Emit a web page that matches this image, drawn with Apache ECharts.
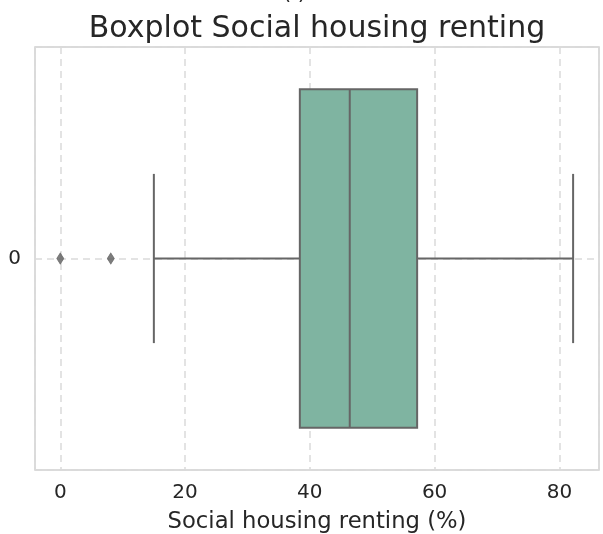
<!DOCTYPE html>
<html>
<head>
<meta charset="utf-8">
<title>Boxplot Social housing renting</title>
<script src="https://cdn.jsdelivr.net/npm/echarts@6/dist/echarts.min.js"></script>
<style>
  html, body { margin: 0; padding: 0; background: #ffffff; }
  #chart { width: 603px; height: 534px; }
</style>
</head>
<body>
<div id="chart"></div>
<script>
// Five-number summary of social housing renting (%), one group labelled "0"
const categories = ['0'];
const whiskerLow = [15.0];
const quartile1 = [38.4];
const medians = [46.4];
const quartile3 = [57.2];
const whiskerHigh = [82.2];
// Points beyond the whiskers
const outlierValues = [0.0, 8.1];
const outlierGroup = [0, 0];
const xTickValues = [0, 20, 40, 60, 80];

const FONT = '"DejaVu Sans", sans-serif';
const TEXT = '#262626';
const EDGE = '#666666';
const FILL = '#7fb4a1';
const GRID = '#dadada';

const boxData = categories.map((c, i) => [
  whiskerLow[i], quartile1[i], medians[i], quartile3[i], whiskerHigh[i], i
]);
const outlierData = outlierValues.map((v, i) => [v, outlierGroup[i]]);

function renderBox(params, api) {
  const lo = api.value(0), q1 = api.value(1), med = api.value(2);
  const q3 = api.value(3), hi = api.value(4), g = api.value(5);
  const boxH = api.size([0, 0.8])[1];
  const capH = api.size([0, 0.4])[1];
  const pLo = api.coord([lo, g]);
  const pQ1 = api.coord([q1, g]);
  const pMed = api.coord([med, g]);
  const pQ3 = api.coord([q3, g]);
  const pHi = api.coord([hi, g]);
  const cy = pQ1[1];
  const lineStyle = { stroke: EDGE, lineWidth: 2, fill: null };
  return {
    type: 'group',
    children: [
      { type: 'line', shape: { x1: pLo[0], y1: cy, x2: pQ1[0], y2: cy }, style: lineStyle },
      { type: 'line', shape: { x1: pQ3[0], y1: cy, x2: pHi[0], y2: cy }, style: lineStyle },
      { type: 'line', shape: { x1: pLo[0], y1: cy - capH / 2, x2: pLo[0], y2: cy + capH / 2 }, style: lineStyle },
      { type: 'line', shape: { x1: pHi[0], y1: cy - capH / 2, x2: pHi[0], y2: cy + capH / 2 }, style: lineStyle },
      { type: 'rect', shape: { x: pQ1[0], y: cy - boxH / 2, width: pQ3[0] - pQ1[0], height: boxH },
        style: { fill: FILL, stroke: EDGE, lineWidth: 2 } },
      { type: 'line', shape: { x1: pMed[0], y1: cy - boxH / 2, x2: pMed[0], y2: cy + boxH / 2 }, style: lineStyle }
    ]
  };
}

const chart = echarts.init(document.getElementById('chart'), null, { renderer: 'canvas' });
chart.setOption({
  animation: false,
  backgroundColor: '#ffffff',
  textStyle: { fontFamily: FONT },
  grid: {
    left: 35, right: 4, top: 47, bottom: 64,
    outerBoundsMode: 'none',
    containLabel: false,
    show: true, borderColor: '#d0d0d0', borderWidth: 1.5, backgroundColor: 'transparent'
  },
  graphic: [
    {
      type: 'text', x: 294.5, y: -6,
      style: { text: '( )', font: '21px ' + FONT, fill: TEXT, align: 'center', verticalAlign: 'middle' }
    },
    {
      type: 'text', x: 317, y: 29.5,
      style: { text: 'Boxplot Social housing renting', font: '30px ' + FONT, fill: TEXT,
               align: 'center', verticalAlign: 'middle' }
    }
  ],
  xAxis: {
    type: 'value',
    min: -4.05,
    max: 86.35,
    splitNumber: 5,
    name: 'Social housing renting (%)',
    nameLocation: 'middle',
    nameGap: 41,
    nameTextStyle: { fontSize: 22.7, color: TEXT, fontFamily: FONT },
    axisLine: { show: false },
    axisTick: { show: false },
    axisLabel: {
      fontSize: 20, color: TEXT, fontFamily: FONT, margin: 13,
      formatter: v => (xTickValues.indexOf(Math.round(v * 1000) / 1000) >= 0 ? String(v) : '')
    },
    splitLine: { show: true, lineStyle: { color: GRID, width: 1.5, type: [7, 5] } }
  },
  yAxis: {
    type: 'value',
    min: -0.5,
    max: 0.5,
    interval: 0.5,
    inverse: true,
    axisLine: { show: false },
    axisTick: { show: false },
    axisLabel: {
      fontSize: 20, color: TEXT, fontFamily: FONT, margin: 14,
      formatter: v => (Math.abs(v) < 1e-9 ? categories[0] : '')
    },
    splitLine: { show: true, lineStyle: { color: GRID, width: 1.5, type: [7, 5] } }
  },
  series: [
    {
      type: 'custom',
      renderItem: renderBox,
      data: boxData,
      encode: { x: [0, 1, 2, 3, 4], y: 5 },
      z: 3
    },
    {
      type: 'scatter',
      data: outlierData,
      symbol: 'diamond',
      symbolSize: [7, 11],
      itemStyle: { color: '#5c5c5c', borderColor: '#5c5c5c', borderWidth: 0.8 },
      z: 4
    }
  ]
});
</script>
</body>
</html>
